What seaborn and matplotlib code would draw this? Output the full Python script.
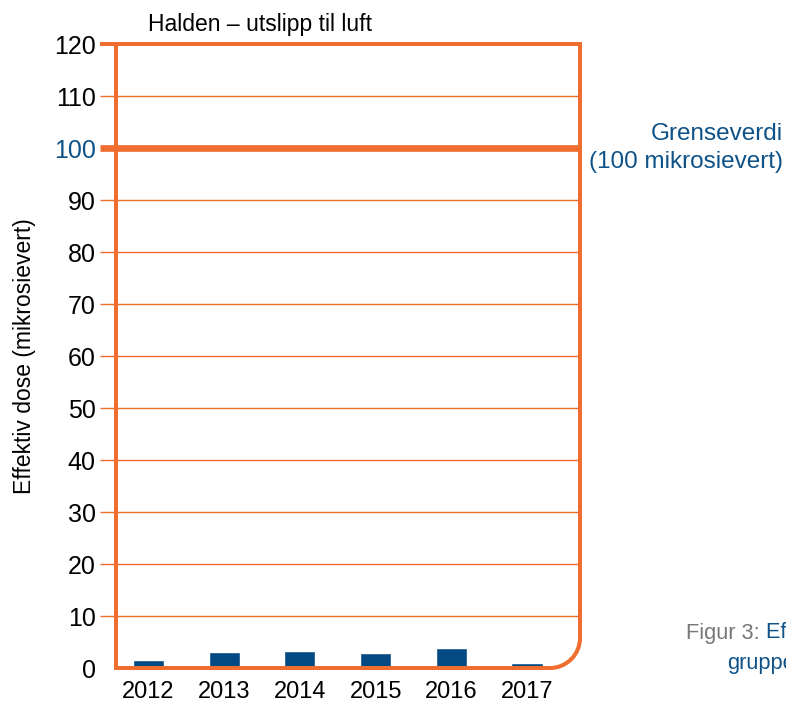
import matplotlib
matplotlib.use("Agg")
import matplotlib.pyplot as plt
import seaborn as sns
import pandas as pd
import numpy as np
from matplotlib.path import Path
from matplotlib.patches import PathPatch

years = ["2012", "2013", "2014", "2015", "2016", "2017"]
dose = [1.45, 3.0, 3.2, 2.85, 3.8, 0.9]
yticks = [0, 10, 20, 30, 40, 50, 60, 70, 80, 90, 100, 110, 120]
limit_value = 100
title = "Halden – utslipp til luft"
ylabel = "Effektiv dose (mikrosievert)"
limit_label = "Grenseverdi\n(100 mikrosievert)"

ORANGE = "#EF6D2E"
BLUE = "#034A84"
TXTBLUE = "#0E5288"

sns.set_theme(style="white")
plt.rcParams["font.family"] = ["Liberation Sans", "DejaVu Sans"]

W, H = 786, 704
fig = plt.figure(figsize=(W / 100, H / 100), dpi=100)
L, R, T, B = 116, 580, 44, 668
ax = fig.add_axes([L / W, 1 - B / H, (R - L) / W, (B - T) / H])

df = pd.DataFrame({"year": years, "dose": dose})
sns.barplot(data=df, x="year", y="dose", color=BLUE, width=0.41, ax=ax,
            saturation=1, zorder=3)

ax.set_xlim(-0.43, 5.70)
ax.set_ylim(0, 120)
for s in ax.spines.values():
    s.set_visible(False)

# gridlines extending left of axis
ext = -16 / (R - L)
ytr = ax.get_yaxis_transform()
for v in yticks:
    if v in (0, 120):
        continue
    lw = 4.8 if v == limit_value else 1.0
    ax.plot([ext, 1], [v, v], transform=ytr, color=ORANGE, lw=lw,
            clip_on=False, zorder=2, solid_capstyle="butt")
ax.plot([ext, 0], [120, 120], transform=ytr, color=ORANGE, lw=2.9,
        clip_on=False, zorder=2, solid_capstyle="butt")

# frame with rounded bottom-right corner (axes coords)
rx = 30 / (R - L)
ry = 30 / (B - T)
k = 0.5523
verts = [(0, 1), (0, 0), (1 - rx, 0),
         (1 - rx + k * rx, 0), (1, ry - k * ry), (1, ry),
         (1, 1), (0, 1)]
codes = [Path.MOVETO, Path.LINETO, Path.LINETO,
         Path.CURVE4, Path.CURVE4, Path.CURVE4,
         Path.LINETO, Path.LINETO]
frame = PathPatch(Path(verts, codes), transform=ax.transAxes, fill=False,
                  edgecolor=ORANGE, lw=2.9, clip_on=False, zorder=4,
                  joinstyle="miter")
ax.add_patch(frame)

ax.set_yticks(yticks)
ax.set_yticklabels([str(v) for v in yticks])
ax.tick_params(axis="y", length=0, pad=14.5, labelsize=18, colors="black")
ax.tick_params(axis="x", length=0, pad=9.5, labelsize=17, colors="black")
for lab in ax.get_yticklabels():
    if lab.get_text() == str(limit_value):
        lab.set_color(TXTBLUE)
ax.set_xlabel("")
ax.set_ylabel(ylabel, fontsize=16.5, color="black", labelpad=13)
ax.set_title(title, fontsize=16.5, color="black", loc="left", pad=9, x=0.07)

fig.text(783 / W, 1 - 148 / H, limit_label, ha="right", va="center",
         fontsize=17.5, color=TXTBLUE, linespacing=1.35)
t1 = fig.text(686 / W, 1 - 633 / H, "Figur 3: ", ha="left", va="center",
              fontsize=15.7, color="#777777")
fig.canvas.draw()
bb = t1.get_window_extent()
fig.text(bb.x1 / W, 1 - 633 / H, "Effektiv dose", ha="left", va="center",
         fontsize=15.7, color=TXTBLUE)
fig.text(727 / W, 1 - 664 / H, "gruppe", ha="left", va="center",
         fontsize=15.7, color=TXTBLUE)

fig.savefig("out.png", dpi=100)
